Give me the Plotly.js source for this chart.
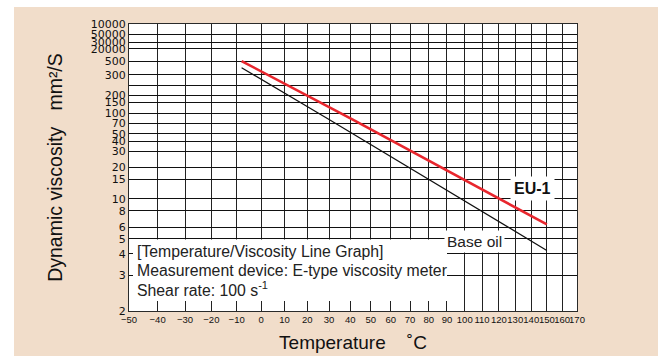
<!DOCTYPE html>
<html>
<head>
<meta charset="utf-8">
<script src="https://cdn.plot.ly/plotly-3.0.1.min.js"></script>
<style>html,body{margin:0;padding:0;background:#fff;}#chart{width:658px;height:356px;}</style>
</head>
<body>
<div id="chart"></div>
<script>
// ---- data ----
const tempTicks = [-50,-40,-30,-20,-10,0,10,20,30,40,50,60,70,80,90,100,110,120,130,140,150,160,170];
const viscTicks = [2,3,4,5,6,8,10,15,20,30,40,50,70,100,150,200,500,1000,2000,3000,5000,10000];
const viscTickText = ['2','3','4','5','6','8','10','15','20','30','40','50','70','100','150','200','300','500','20000','30000','50000','10000'];
const viscUnlabeled = [300];
const eu1Temp = [-8, 41, 150];
const eu1Visc = [1000, 80, 6.3];
const baseTemp = [-8, 30, 150];
const baseVisc = [707, 80, 4.2];

// ---- scales (ASTM-style viscosity chart) ----
const K = t => t + 273.15;                         // x: log axis of absolute temperature
const Y = v => Math.log10(Math.log10(v + 0.7));    // y: double-log viscosity

const W = 658, H = 356, ML = 129, MR = 81, MT = 24, MB = 45;
const PW = W - ML - MR, PH = H - MT - MB;
const px = x => (x - ML) / PW;
const py = y => (H - MB - y) / PH;

const font = 'Liberation Sans, Arial, Helvetica, sans-serif';

const traces = [
  {x: baseTemp.map(K), y: baseVisc.map(Y), mode: 'lines', line: {color: '#111', width: 1.2}, hoverinfo: 'skip', name: 'Base oil'},
  {x: eu1Temp.map(K), y: eu1Visc.map(Y), mode: 'lines', line: {color: '#e8262d', width: 2.6}, hoverinfo: 'skip', name: 'EU-1'}
];

const layout = {
  width: W, height: H,
  margin: {l: ML, r: MR, t: MT, b: MB, pad: 0},
  paper_bgcolor: '#f1ddca',
  plot_bgcolor: '#ffffff',
  showlegend: false,
  font: {family: font, color: '#111'},
  xaxis: {
    type: 'log',
    range: [Math.log10(K(-50)), Math.log10(K(170))],
    tickmode: 'array',
    tickvals: tempTicks.map(K),
    ticktext: tempTicks.map(t => t < 0 ? '\u2212' + Math.abs(t) : String(t)),
    tickangle: 0,
    ticks: '', showgrid: true, gridcolor: '#222', gridwidth: 1,
    showline: true, linecolor: '#2a2a2a', linewidth: 1, mirror: true,
    zeroline: false,
    tickfont: {family: font, size: 9.5, color: '#111'},
    title: {text: 'Temperature\u00a0\u00a0\u00a0 \u02daC', font: {family: font, size: 19, color: '#111'}, standoff: 11}
  },
  yaxis: {
    range: [Y(2), Y(10000)],
    tickmode: 'array',
    tickvals: viscTicks.map(Y),
    ticktext: viscTickText,
    ticks: '', showgrid: true, gridcolor: '#111', gridwidth: 1,
    minor: {tickmode: 'array', tickvals: viscUnlabeled.map(Y), showgrid: true, gridcolor: '#111', gridwidth: 1, ticks: ''},
    showline: true, linecolor: '#2a2a2a', linewidth: 1, mirror: true,
    zeroline: false,
    tickfont: {family: 'DejaVu Sans, sans-serif', size: 11, color: '#111'},
    title: {text: 'Dynamic viscosity\u00a0\u00a0 mm\u00b2/S', font: {family: font, size: 19.5, color: '#111'}, standoff: 22}
  },
  shapes: [
    {type: 'rect', xref: 'paper', yref: 'paper', x0: px(-5), x1: px(14), y0: py(H + 5), y1: py(-5), fillcolor: '#ffffff', line: {width: 0}},
    {type: 'rect', xref: 'paper', yref: 'paper', x0: px(-5), x1: px(W + 5), y0: py(7), y1: py(-5), fillcolor: '#ffffff', line: {width: 0}},
    {type: 'rect', xref: 'paper', yref: 'paper', layer: 'above', x0: px(133), x1: px(447), y0: py(301), y1: py(239.5), fillcolor: '#ffffff', line: {width: 0}}
  ],
  annotations: [
    {xref: 'paper', yref: 'paper', x: px(134.5), y: py(251.5), xanchor: 'left', yanchor: 'middle', showarrow: false, text: '[Temperature/Viscosity Line Graph]', font: {family: font, size: 15.8, color: '#222'}},
    {xref: 'paper', yref: 'paper', x: px(134.5), y: py(270), xanchor: 'left', yanchor: 'middle', showarrow: false, text: 'Measurement device: E-type viscosity meter', font: {family: font, size: 15.8, color: '#222'}},
    {xref: 'paper', yref: 'paper', x: px(134.5), y: py(289), xanchor: 'left', yanchor: 'middle', showarrow: false, text: 'Shear rate: 100 s<sup>-1</sup>', font: {family: font, size: 15.8, color: '#222'}},
    {xref: 'paper', yref: 'paper', x: px(474.5), y: py(241.5), xanchor: 'center', yanchor: 'middle', showarrow: false, text: 'Base oil', bgcolor: '#ffffff', borderpad: 2, font: {family: font, size: 15.5, color: '#222'}},
    {xref: 'paper', yref: 'paper', x: px(532), y: py(188), xanchor: 'center', yanchor: 'middle', showarrow: false, text: '<b>EU-1</b>', bgcolor: '#ffffff', borderpad: 3, font: {family: font, size: 16, color: '#111'}}
  ]
};

Plotly.newPlot('chart', traces, layout, {displayModeBar: false, staticPlot: true});
</script>
</body>
</html>
